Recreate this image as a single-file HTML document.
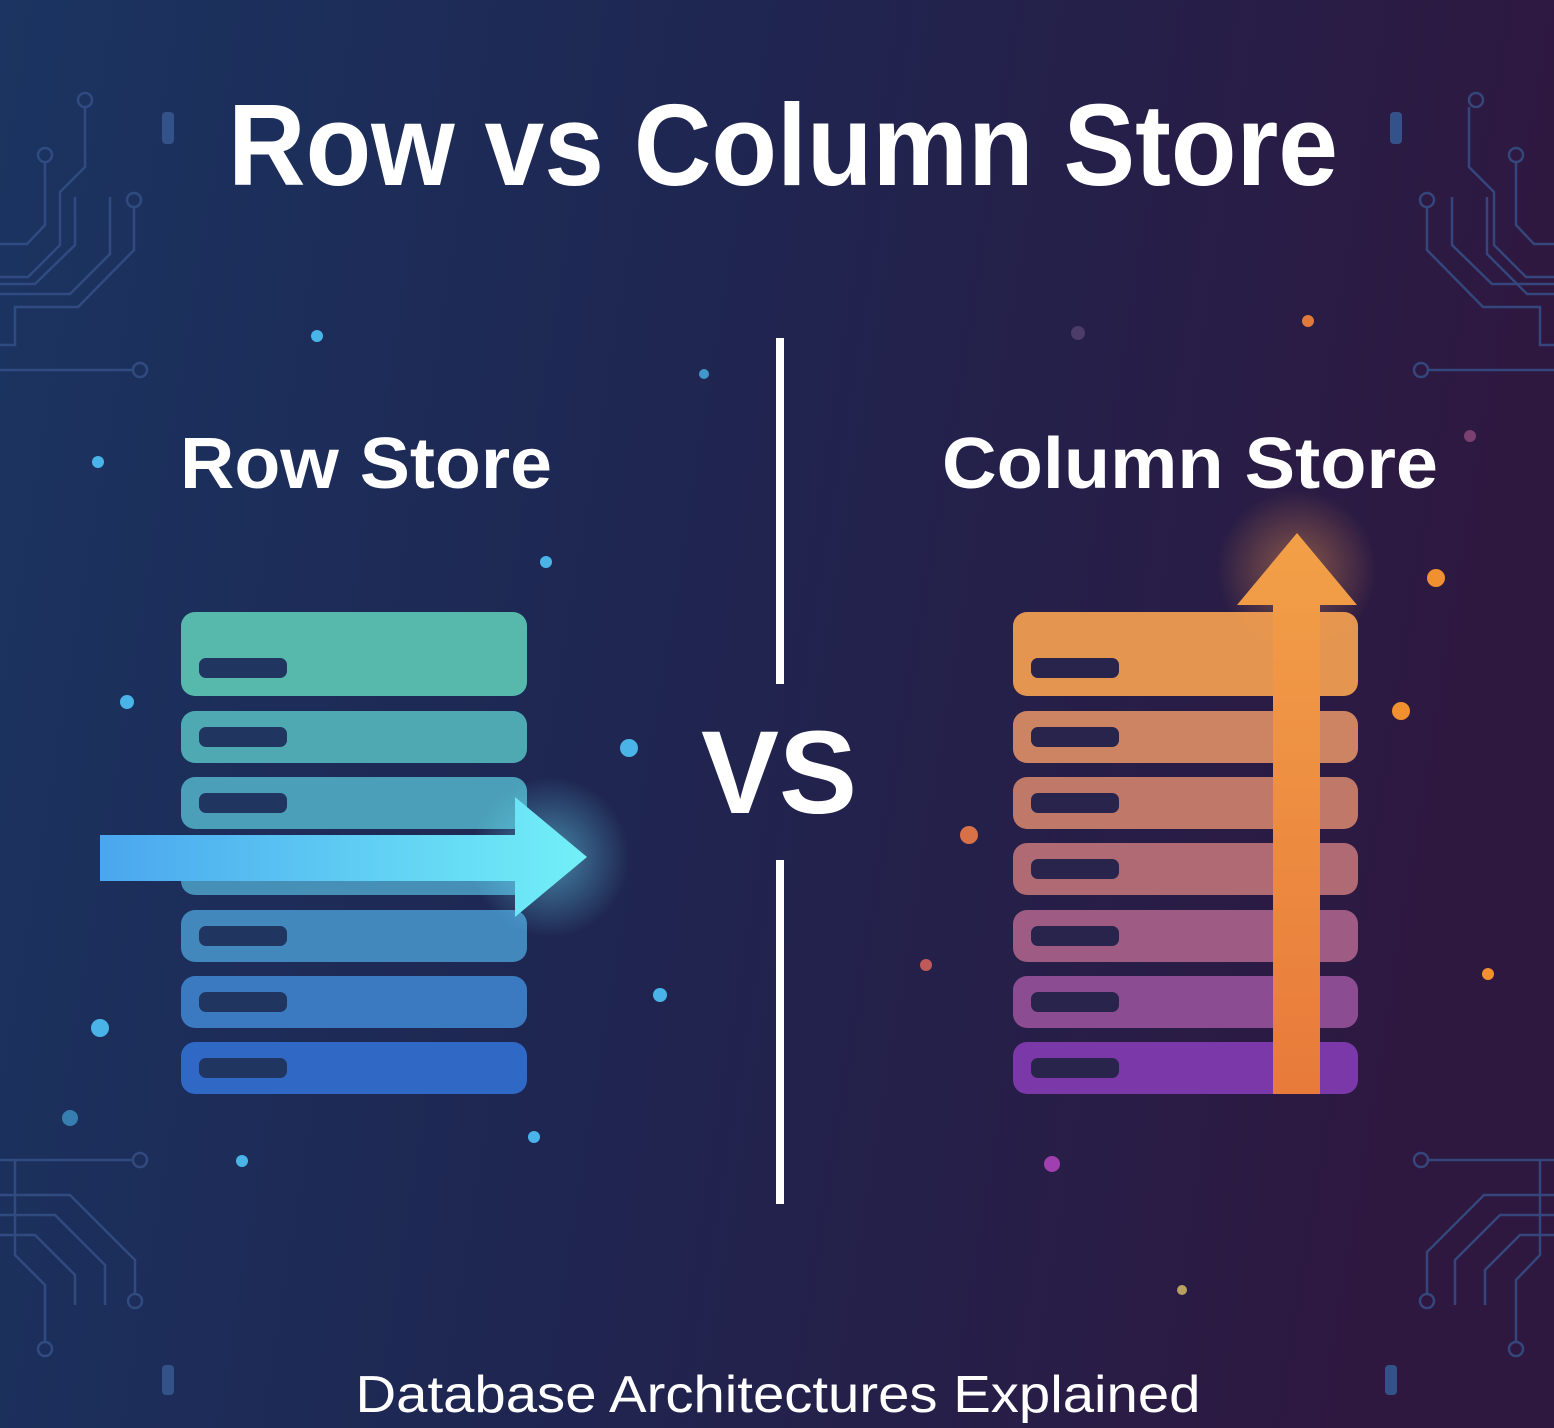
<!DOCTYPE html>
<html><head><meta charset="utf-8"><style>html,body{margin:0;padding:0;overflow:hidden}svg{display:block}</style></head>
<body>
<svg width="1554" height="1428" viewBox="0 0 1554 1428" xmlns="http://www.w3.org/2000/svg" font-family="Liberation Sans, sans-serif">
<defs>
<linearGradient id="bg" x1="0" y1="0" x2="1" y2="0.15">
<stop offset="0" stop-color="#1b3461"/><stop offset="0.5" stop-color="#1f2550"/><stop offset="1" stop-color="#2e1840"/></linearGradient>
<linearGradient id="lg" x1="0" y1="0" x2="0" y2="1"><stop offset="0" stop-color="#57b8a8"/><stop offset="0.5" stop-color="#4490b8"/><stop offset="1" stop-color="#3068c8"/></linearGradient>
<linearGradient id="rg" x1="0" y1="0" x2="0" y2="1"><stop offset="0" stop-color="#e4954f"/><stop offset="0.5" stop-color="#b0687a"/><stop offset="1" stop-color="#7a38a8"/></linearGradient>
<linearGradient id="ba" x1="0" y1="0" x2="1" y2="0"><stop offset="0" stop-color="#4aa6ee"/><stop offset="1" stop-color="#72f0f8"/></linearGradient>
<linearGradient id="oa" x1="0" y1="0" x2="0" y2="1"><stop offset="0" stop-color="#f2a048"/><stop offset="1" stop-color="#e87a3a"/></linearGradient>
<radialGradient id="glow"><stop offset="0" stop-color="#6ee8ff" stop-opacity="0.5"/><stop offset="1" stop-color="#6ee8ff" stop-opacity="0"/></radialGradient>
<radialGradient id="oglow"><stop offset="0" stop-color="#ffa050" stop-opacity="0.45"/><stop offset="1" stop-color="#ffa050" stop-opacity="0"/></radialGradient>
</defs>
<rect width="1554" height="1428" fill="url(#bg)"/>
<g fill="none" stroke="#36528a" stroke-width="2.5" opacity="0.8">
<path d="M85 107V167L60 192V245L28 277H0"/><circle cx="85" cy="100" r="7"/>
<path d="M45 162V225L27 244H0"/><circle cx="45" cy="155" r="7"/>
<path d="M75 197V245L35 284H0"/><path d="M110 197V254L70 294H0"/><path d="M134 207V250L78 307H15V345H0"/><circle cx="134" cy="200" r="7"/>
<path d="M0 370H133"/><circle cx="140" cy="370" r="7"/>
<path d="M1469 107V167L1494 192V245L1526 277H1554"/><circle cx="1476" cy="100" r="7"/>
<path d="M1516 162V225L1534 244H1554"/><circle cx="1516" cy="155" r="7"/>
<path d="M1452 197V245L1492 284H1554"/><path d="M1487 197V254L1527 294H1554"/><path d="M1427 207V250L1483 307H1540V345H1554"/><circle cx="1427" cy="200" r="7"/>
<path d="M1554 370H1428"/><circle cx="1421" cy="370" r="7"/>
<path d="M0 1160H133"/><circle cx="140" cy="1160" r="7"/>
<path d="M0 1195H70L135 1260V1295"/><circle cx="135" cy="1301" r="7"/>
<path d="M0 1215H55L105 1265V1305"/><path d="M0 1235H35L75 1275V1305"/><path d="M15 1160V1255L45 1285V1342"/><circle cx="45" cy="1349" r="7"/>
<path d="M1554 1160H1428"/><circle cx="1421" cy="1160" r="7"/>
<path d="M1554 1195H1484L1427 1252V1295"/><circle cx="1427" cy="1301" r="7"/>
<path d="M1554 1215H1500L1455 1260V1305"/><path d="M1554 1235H1520L1485 1270V1305"/><path d="M1540 1160V1255L1516 1280V1342"/><circle cx="1516" cy="1349" r="7"/>
</g>
<g fill="#34528a"><rect x="162" y="112" width="12" height="32" rx="4"/><rect x="1390" y="112" width="12" height="32" rx="4"/><rect x="162" y="1365" width="12" height="30" rx="4"/><rect x="1385" y="1365" width="12" height="30" rx="4"/></g>
<g fill="#4ab4e8">
<circle cx="317" cy="336" r="6"/><circle cx="98" cy="462" r="6"/><circle cx="546" cy="562" r="6"/><circle cx="127" cy="702" r="7"/><circle cx="629" cy="748" r="9"/><circle cx="100" cy="1028" r="9"/><circle cx="660" cy="995" r="7"/><circle cx="534" cy="1137" r="6"/><circle cx="242" cy="1161" r="6"/><circle cx="70" cy="1118" r="8" opacity="0.6"/><circle cx="704" cy="374" r="5" opacity="0.8"/></g>
<g><circle cx="1078" cy="333" r="7" fill="#4b3c6a"/><circle cx="1308" cy="321" r="6" fill="#e07a3a"/><circle cx="1436" cy="578" r="9" fill="#f0902f"/><circle cx="1401" cy="711" r="9" fill="#f0902f"/><circle cx="969" cy="835" r="9" fill="#d87048"/><circle cx="926" cy="965" r="6" fill="#c05a58"/><circle cx="1488" cy="974" r="6" fill="#f0902f"/><circle cx="1052" cy="1164" r="8" fill="#a040b0"/><circle cx="1470" cy="436" r="6" fill="#7a4070"/><circle cx="1182" cy="1290" r="5" fill="#b8a060"/></g>
<text x="783" y="185" font-size="116" font-weight="bold" fill="#fff" text-anchor="middle" textLength="1110" lengthAdjust="spacingAndGlyphs">Row vs Column Store</text>
<text x="180" y="488" font-size="72" font-weight="bold" fill="#fff" textLength="372" lengthAdjust="spacingAndGlyphs">Row Store</text>
<text x="942" y="488" font-size="72" font-weight="bold" fill="#fff" textLength="496" lengthAdjust="spacingAndGlyphs">Column Store</text>
<rect x="776" y="338" width="8" height="346" fill="#fff"/><rect x="776" y="860" width="8" height="344" fill="#fff"/>
<text x="779" y="813" font-size="118" font-weight="bold" fill="#fff" text-anchor="middle" textLength="156" lengthAdjust="spacingAndGlyphs">VS</text>
<g id="L">
<rect x="181" y="612" width="346" height="84" rx="14" fill="#57b9ab"/>
<rect x="181" y="711" width="346" height="52" rx="14" fill="#4fa9b2"/>
<rect x="181" y="777" width="346" height="52" rx="14" fill="#4b9fb8"/>
<rect x="181" y="843" width="346" height="52" rx="14" fill="#4690b8"/>
<rect x="181" y="910" width="346" height="52" rx="14" fill="#4288bc"/>
<rect x="181" y="976" width="346" height="52" rx="14" fill="#3b7ac0"/>
<rect x="181" y="1042" width="346" height="52" rx="14" fill="#3068c6"/>
<g fill="#203560"><rect x="199" y="658" width="88" height="20" rx="7"/><rect x="199" y="727" width="88" height="20" rx="7"/><rect x="199" y="793" width="88" height="20" rx="7"/><rect x="199" y="926" width="88" height="20" rx="7"/><rect x="199" y="992" width="88" height="20" rx="7"/><rect x="199" y="1058" width="88" height="20" rx="7"/></g>
</g>
<circle cx="550" cy="857" r="80" fill="url(#glow)"/>
<path d="M100 835H515V797L587 857L515 917V881H100Z" fill="url(#ba)"/>
<rect x="1013" y="612" width="345" height="84" rx="14" fill="#e4954f"/>
<rect x="1013" y="711" width="345" height="52" rx="14" fill="#cc8462"/>
<rect x="1013" y="777" width="345" height="52" rx="14" fill="#c07868"/>
<rect x="1013" y="843" width="345" height="52" rx="14" fill="#b06a74"/>
<rect x="1013" y="910" width="345" height="52" rx="14" fill="#9e5c84"/>
<rect x="1013" y="976" width="345" height="52" rx="14" fill="#8c4c92"/>
<rect x="1013" y="1042" width="345" height="52" rx="14" fill="#7a38a8"/>
<g fill="#28244c"><rect x="1031" y="658" width="88" height="20" rx="7"/><rect x="1031" y="727" width="88" height="20" rx="7"/><rect x="1031" y="793" width="88" height="20" rx="7"/><rect x="1031" y="859" width="88" height="20" rx="7"/><rect x="1031" y="926" width="88" height="20" rx="7"/><rect x="1031" y="992" width="88" height="20" rx="7"/><rect x="1031" y="1058" width="88" height="20" rx="7"/></g>
<circle cx="1297" cy="570" r="80" fill="url(#oglow)"/>
<path d="M1273 1094V605H1237L1297 533L1357 605H1320V1094Z" fill="url(#oa)"/>
<text x="778" y="1412" font-size="52" fill="#fff" text-anchor="middle" textLength="845" lengthAdjust="spacingAndGlyphs">Database Architectures Explained</text>
</svg>
</body></html>
